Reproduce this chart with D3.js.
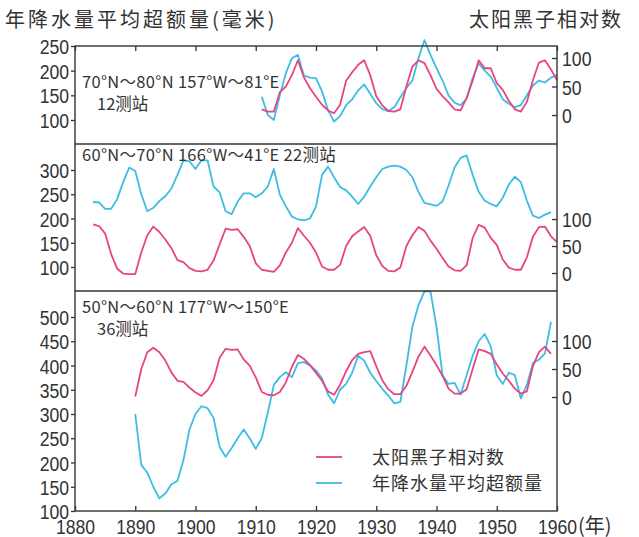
<!DOCTYPE html>
<html>
<head>
<meta charset="utf-8">
<script src="https://cdn.jsdelivr.net/npm/d3@7"></script>
<style>
    body { margin: 0; background: #fff; }
    .chart text { fill: #333; }
    .tick text { font-family: "Liberation Sans", Arial, sans-serif; font-size: 21px; }
    .cjk { font-family: "Noto Sans CJK SC", sans-serif; }
    .lbl { font-family: "Noto Sans CJK SC", sans-serif; font-size: 16.5px; }
</style>
</head>
<body>
<div class="chart"></div>
<script>
        //data: year axis
        var xTicks = [1880, 1890, 1900, 1910, 1920, 1930, 1940, 1950, 1960];

        //panel 1: 70N-80N, 12 stations (from 1911)
        var start1 = 1911;
        var sun1 = [10, 6, 6, 40, 50, 70, 96, 66, 47, 32, 18, 8, 3, 18, 60, 75, 88, 96, 70, 33,
            17, 7, 6, 10, 50, 85, 96, 91, 70, 46, 33, 22, 10, 8, 30, 60, 96, 82, 82, 56,
            44, 25, 10, 6, 23, 61, 92, 96, 80, 61];
        var rain1 = [147, 110, 100, 150, 195, 225, 232, 190, 186, 185, 158, 120, 97, 108, 130, 142, 160, 172, 153, 134,
            122, 118, 126, 146, 165, 180, 225, 262, 232, 205, 180, 150, 135, 130, 143, 185, 215, 200, 188, 165,
            142, 133, 126, 130, 150, 170, 180, 176, 186, 191];
        var rainTicks1 = [100, 150, 200, 250];

        //panel 2: 60N-70N, 22 stations (from 1883)
        var start2 = 1883;
        var sun2 = [90, 87, 73, 35, 8, -1, -2, -2, 38, 70, 86, 76, 62, 46, 24, 20, 9, 4, 3, 6,
            23, 53, 82, 80, 81, 67, 50, 18, 6, 4, 2, 14, 38, 56, 83, 69, 56, 38, 12, 6,
            6, 15, 50, 68, 77, 85, 69, 33, 13, 4, 3, 10, 50, 70, 85, 78, 60, 45, 28, 12,
            5, 4, 14, 65, 89, 84, 65, 52, 25, 10, 6, 6, 29, 67, 85, 86, 68, 57];
        var rain2 = [234, 233, 220, 220, 240, 275, 305, 298, 250, 215, 222, 236, 246, 262, 290, 320, 318, 302, 320, 320,
            266, 254, 215, 209, 235, 252, 252, 244, 252, 266, 302, 249, 225, 204, 198, 196, 200, 225, 290, 307,
            285, 265, 258, 245, 230, 245, 266, 285, 302, 307, 309, 307, 300, 285, 255, 232, 229, 226, 235, 268,
            305, 325, 330, 290, 255, 237, 230, 225, 243, 270, 286, 275, 237, 206, 201, 208, 213];
        var rainTicks2 = [100, 150, 200, 250, 300];

        //panel 3: 50N-60N, 36 stations (from 1890)
        var start3 = 1890;
        var sun3 = [1, 50, 80, 88, 80, 65, 44, 29, 27, 17, 8, 2, 12, 30, 70, 86, 84, 85, 67, 56,
            35, 9, 4, 3, 9, 26, 54, 75, 68, 57, 43, 29, 10, 4, 22, 46, 66, 77, 80, 82,
            55, 30, 14, 5, 5, 20, 45, 72, 90, 74, 57, 38, 15, 6, 6, 14, 50, 85, 82, 77,
            58, 42, 29, 15, 6, 10, 55, 80, 90, 77];
        var rain3 = [300, 195, 179, 150, 126, 136, 155, 162, 205, 268, 300, 316, 312, 292, 232, 212, 230, 250, 268, 250,
            228, 250, 303, 360, 376, 386, 376, 405, 407, 400, 390, 373, 340, 322, 350, 362, 385, 420, 410, 385,
            368, 352, 338, 322, 325, 400, 480, 524, 553, 553, 480, 380, 362, 364, 340, 380, 420, 450, 465, 440,
            380, 362, 385, 380, 332, 360, 405, 412, 425, 490];
        var rainTicks3 = [100, 150, 200, 250, 300, 350, 400, 450, 500];

        var sunTicks = [0, 50, 100];
        var labels = ["70°N～80°N 157°W～81°E", "60°N～70°N 166°W～41°E 22测站", "50°N～60°N 177°W～150°E"];
        var subLabels = ["12测站", "", "36测站"];
        var legendNames = ["太阳黑子相对数", "年降水量平均超额量"];

        var sunColor = "#e8457f";
        var rainColor = "#3dbde3";
        var frameColor = "#333";

        var width = 639;
        var height = 537;
        var plotL = 75, plotR = 557, plotT = 46, plotB = 511;

        //set canvas
        var svg = d3.select(".chart")
            .append("svg")
            .attr("width", width)
            .attr("height", height);

        //set X axis
        var x = d3.scaleLinear()
            .domain([1880, 1960])
            .range([plotL, plotR]);

        //panels: rain scale / sun scale per band
        var panels = [
            { start: start1, sun: sun1, rain: rain1, ticks: rainTicks1, rainDom: [100, 250], rainRange: [120, 46], sunRange: [115, 58], top: 46, lblY: 42, subY: 64 },
            { start: start2, sun: sun2, rain: rain2, ticks: rainTicks2, rainDom: [100, 300], rainRange: [267, 170], sunRange: [273, 219], top: 144, lblY: 17, subY: 0 },
            { start: start3, sun: sun3, rain: rain3, ticks: rainTicks3, rainDom: [100, 500], rainRange: [511, 317], sunRange: [397, 341], top: 291, lblY: 22, subY: 44 }
        ];

        //narrow digits like the printed chart
        function narrow(sel) {
            sel.selectAll(".tick text").attr("transform", "scale(0.84,1)");
        }

        panels.forEach(function (p, k) {
            var yRain = d3.scaleLinear().domain(p.rainDom).range(p.rainRange);
            var ySun = d3.scaleLinear().domain([0, 100]).range(p.sunRange);

            //left axis
            var gl = svg.append("g")
                .attr("transform", "translate(" + plotL + ",0)")
                .call(d3.axisLeft(yRain).tickValues(p.ticks).tickSize(4).tickPadding(3));
            gl.select(".domain").remove();
            gl.selectAll(".tick line").attr("stroke", frameColor).attr("stroke-width", 1.3);
            gl.selectAll(".tick text").attr("dy", "0.36em");
            narrow(gl);

            //right axis (ticks inside)
            var gr = svg.append("g")
                .attr("transform", "translate(" + plotR + ",0)")
                .call(d3.axisRight(ySun).tickValues(sunTicks).tickSize(-5).tickPadding(6));
            gr.select(".domain").remove();
            gr.selectAll(".tick line").attr("stroke", frameColor).attr("stroke-width", 1.3);
            gr.selectAll(".tick text").attr("dy", "0.36em");
            narrow(gr);

            //lines
            var lineRain = d3.line()
                .x(function (d, i) { return x(p.start + i) })
                .y(function (d) { return yRain(d) });
            var lineSun = d3.line()
                .x(function (d, i) { return x(p.start + i) })
                .y(function (d) { return ySun(d) });

            svg.append("path")
                .datum(p.rain)
                .attr("d", lineRain)
                .attr("fill", "none")
                .attr("stroke", rainColor)
                .attr("stroke-width", 1.8)
                .attr("stroke-linejoin", "round");
            svg.append("path")
                .datum(p.sun)
                .attr("d", lineSun)
                .attr("fill", "none")
                .attr("stroke", sunColor)
                .attr("stroke-width", 1.8)
                .attr("stroke-linejoin", "round");

            //panel labels
            svg.append("text")
                .attr("class", "lbl")
                .attr("x", 82)
                .attr("y", p.top + p.lblY)
                .style("letter-spacing", "0.3px")
                .text(labels[k]);
            if (subLabels[k]) {
                svg.append("text")
                    .attr("class", "lbl")
                    .attr("x", 97)
                    .attr("y", p.top + p.subY)
                    .text(subLabels[k]);
            }
        });

        //frame
        svg.append("rect")
            .attr("x", plotL)
            .attr("y", plotT)
            .attr("width", plotR - plotL)
            .attr("height", plotB - plotT)
            .attr("fill", "none")
            .attr("stroke", frameColor)
            .attr("stroke-width", 1.4);
        svg.selectAll("divider")
            .data([panels[1].top, panels[2].top])
            .enter()
            .append("line")
            .attr("x1", plotL)
            .attr("x2", plotR)
            .attr("y1", function (d) { return d })
            .attr("y2", function (d) { return d })
            .attr("stroke", frameColor)
            .attr("stroke-width", 1.4);

        //bottom axis
        var gx = svg.append("g")
            .attr("transform", "translate(0," + plotB + ")")
            .call(d3.axisBottom(x).tickValues(xTicks).tickFormat(d3.format("d")).tickSize(-5));
        gx.select(".domain").remove();
        gx.selectAll(".tick line").attr("stroke", frameColor).attr("stroke-width", 1.3);
        gx.selectAll(".tick text").attr("y", 23).attr("dy", 0);
        narrow(gx);

        svg.append("text")
            .attr("class", "cjk")
            .attr("x", 578)
            .attr("y", 533)
            .style("font-size", "20px")
            .text("(年)");

        //top ticks
        var gt = svg.append("g")
            .attr("transform", "translate(0," + plotT + ")")
            .call(d3.axisTop(x).tickValues(xTicks).tickFormat("").tickSize(-5));
        gt.select(".domain").remove();
        gt.selectAll(".tick line").attr("stroke", frameColor).attr("stroke-width", 1.3);

        //titles
        svg.append("text")
            .attr("class", "cjk")
            .attr("x", 5)
            .attr("y", 27)
            .style("font-size", "20px")
            .style("letter-spacing", "3px")
            .text("年降水量平均超额量(毫米)");
        svg.append("text")
            .attr("class", "cjk")
            .attr("x", 623)
            .attr("y", 27)
            .attr("text-anchor", "end")
            .style("font-size", "20px")
            .style("letter-spacing", "2px")
            .text("太阳黑子相对数");

        //legend
        var legend = svg.selectAll("legend")
            .data(legendNames)
            .enter()
            .append("g")
            .attr("transform", function (d, i) { return "translate(316," + (457 + i * 26) + ")" });
        legend.append("line")
            .attr("x1", 0)
            .attr("x2", 26)
            .attr("stroke", function (d, i) { return i == 0 ? sunColor : rainColor })
            .attr("stroke-width", 1.8);
        legend.append("text")
            .attr("class", "cjk")
            .attr("x", 56)
            .attr("y", 7)
            .style("font-size", "18px")
            .style("letter-spacing", "1px")
            .text(function (d) { return d });
</script>
</body>
</html>
